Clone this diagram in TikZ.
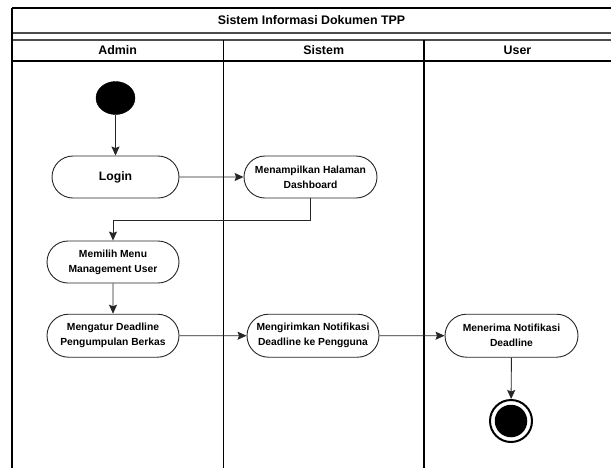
\documentclass[tikz,border=0pt]{standalone}
\usepackage{fontspec}
\setmainfont{Liberation Sans}
\usetikzlibrary{arrows.meta,shapes.misc,shapes.geometric}
\tikzset{
  frame/.style={line width=1.1pt,draw=black},
  dline/.style={line width=1.1pt,draw=black!70},
  hdr/.style={font=\bfseries\fontsize{12.4}{14}\selectfont,inner sep=0pt,anchor=center},
  act/.style={rounded rectangle,draw=black!85,line width=0.9pt,fill=white,align=center,
    inner sep=0pt,minimum height=42pt,font=\bfseries\fontsize{10.3}{15}\selectfont},
  arr/.style={draw=black!85,line width=0.9pt,-{Stealth[length=9pt,width=8pt,inset=1.5pt]}},
}
\begin{document}
\begin{tikzpicture}[x=1pt,y=-1pt]
\clip (0,0) rectangle (611,467);
\fill[white] (0,0) rectangle (611,467);
% frame
\draw[frame] (12,8) -- (620,8);
\draw[dline] (12,33) -- (620,33);
\draw[dline] (12,40) -- (620,40);
\draw[frame] (12,61) -- (620,61);
\draw[frame] (12,8) -- (12,470);
\draw[frame] (223.3,40) -- (223.3,470);
\draw[frame] (424,40) -- (424,470);
% texts
\node[hdr] (title) at (311.5,20.5) {Sistem Informasi Dokumen TPP};
\node[hdr] (hadmin) at (117.7,50.5) {Admin};
\node[hdr] (hsistem) at (323.7,50.5) {Sistem};
\node[hdr] (huser) at (517.5,50.5) {User};
% nodes
\node[ellipse,fill=black,draw=black,minimum width=39pt,minimum height=33pt,inner sep=0pt] (start) at (115.5,98) {};
\node[act,minimum width=127pt,font=\bfseries\fontsize{12.2}{15}\selectfont] (login) at (115.5,177) {Login};
\node[act,minimum width=133pt] (tampil) at (310.5,177) {Menampilkan Halaman\\Dashboard};
\node[act,minimum width=132pt] (memilih) at (113,262) {Memilih Menu\\Management User};
\node[act,minimum width=132pt,minimum height=43pt] (atur) at (113,335.7) {Mengatur Deadline\\Pengumpulan Berkas};
\node[act,minimum width=132pt,minimum height=43pt] (kirim) at (313,335.7) {Mengirimkan Notifikasi\\Deadline ke Pengguna};
\node[act,minimum width=133pt,minimum height=43pt] (terima) at (511.5,335.7) {Menerima Notifikasi\\Deadline};
\node[circle,draw=black,line width=2pt,fill=white,minimum size=42pt,inner sep=0pt] (end) at (511,421) {};
\node[circle,fill=black,minimum size=32.5pt,inner sep=0pt] (endin) at (end.center) {};
% connectors
\coordinate (j) at (0,220);
\draw[arr] (start) -- (login);
\draw[arr] (login) -- (tampil);
\draw[arr] (tampil.south) -- (tampil.south |- j) -| (memilih.north);
\draw[arr] (memilih) -- (atur);
\draw[arr] (atur) -- (kirim);
\draw[arr] (kirim) -- (terima);
\draw[arr] (terima) -- (end);
\end{tikzpicture}
\end{document}
